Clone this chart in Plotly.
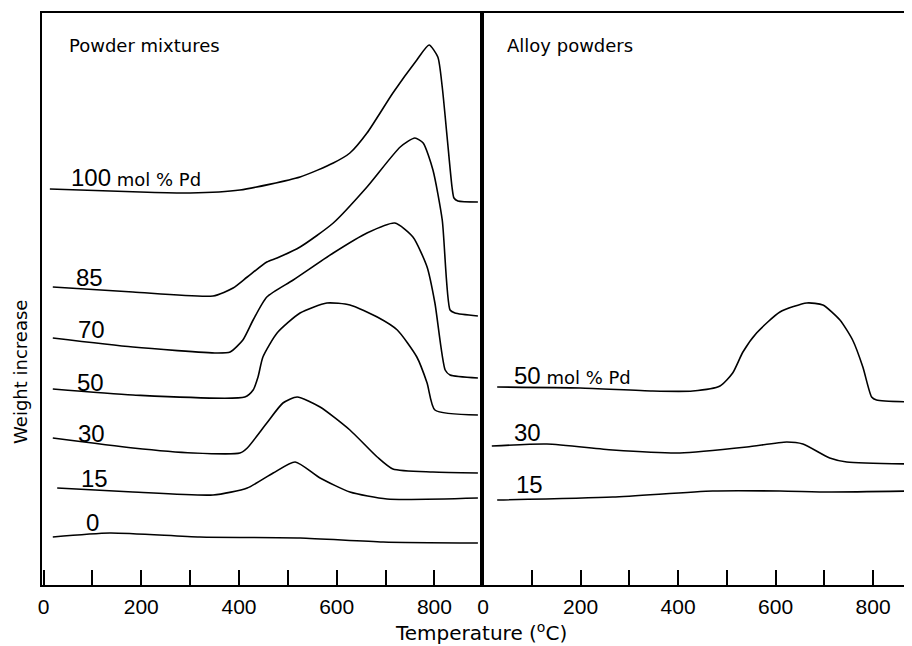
import plotly.graph_objects as go

# ---------------- data (temperature in °C, weight increase in arbitrary units) -------------
# Powder mixtures (left panel)
mix100_t = [13, 198, 300, 402, 525, 593, 627, 662, 715, 764, 789, 807, 816, 826, 836, 840, 848, 889]
mix100_w = [396, 393, 392, 395, 408, 422, 432, 452, 492, 525, 540, 528, 498, 448, 398, 387, 384, 383]

mix85_t = [19, 183, 347, 388, 417, 457, 478, 525, 593, 662, 730, 760, 777, 797, 816, 832, 842, 889]
mix85_w = [298, 293, 289, 297, 308, 323, 327, 338, 362, 398, 438, 447, 442, 415, 365, 275, 272, 269]

mix70_t = [19, 183, 355, 382, 408, 429, 457, 511, 593, 662, 719, 756, 785, 801, 822, 832, 889]
mix70_w = [247, 238, 232, 233, 245, 265, 288, 305, 332, 352, 362, 348, 318, 282, 215, 210, 207]

mix50_t = [19, 183, 412, 429, 439, 449, 478, 525, 580, 627, 683, 724, 764, 785, 801, 889]
mix50_w = [196, 190, 188, 195, 208, 228, 252, 272, 282, 280, 268, 255, 228, 202, 175, 170]

mix30_t = [19, 183, 306, 402, 417, 457, 490, 519, 566, 627, 683, 715, 797, 889]
mix30_w = [147, 137, 132, 132, 137, 162, 182, 188, 178, 155, 128, 116, 113, 112]

mix15_t = [28, 183, 347, 417, 470, 515, 566, 627, 703, 889]
mix15_w = [97, 93, 90, 97, 112, 123, 107, 93, 86, 87]

mix0_t = [19, 136, 320, 525, 695, 889]
mix0_w = [48, 52, 48, 47, 43, 42]

# Alloy powders (right panel)
all50_t = [29, 199, 348, 430, 486, 512, 533, 561, 609, 664, 697, 732, 758, 779, 797, 807, 885]
all50_w = [198, 197, 194, 194, 199, 212, 233, 252, 273, 282, 280, 265, 245, 218, 188, 185, 183]

all30_t = [18, 131, 266, 404, 541, 623, 656, 711, 746, 885]
all30_w = [139, 141, 135, 132, 138, 143, 141, 127, 123, 121]

all15_t = [29, 266, 471, 609, 711, 885]
all15_w = [85, 88, 94, 94, 93, 94]

major_ticks = [0, 200, 400, 600, 800]
major_text = ["0", "200", "400", "600", "800"]
minor_ticks = [100, 300, 500, 700]

# ---------------------------------------------------------------------------------------------
fig = go.Figure()
line = dict(color="black", width=1.6, shape="spline", smoothing=0.6)

for t, w in [(mix100_t, mix100_w), (mix85_t, mix85_w), (mix70_t, mix70_w), (mix50_t, mix50_w),
             (mix30_t, mix30_w), (mix15_t, mix15_w), (mix0_t, mix0_w)]:
    fig.add_trace(go.Scatter(x=t, y=w, mode="lines", line=line, xaxis="x", yaxis="y",
                             showlegend=False, hoverinfo="skip"))

for t, w in [(all50_t, all50_w), (all30_t, all30_w), (all15_t, all15_w)]:
    fig.add_trace(go.Scatter(x=t, y=w, mode="lines", line=line, xaxis="x2", yaxis="y2",
                             showlegend=False, hoverinfo="skip", cliponaxis=True))

split = 0.5052
tickfont = dict(family="Liberation Sans, Arial, sans-serif", size=21, color="black")
xcommon = dict(showline=True, linewidth=2, linecolor="black", mirror=True,
               ticks="inside", ticklen=15, tickwidth=2, tickcolor="black",
               tickmode="array", tickvals=major_ticks, ticktext=major_text,
               minor=dict(tickvals=minor_ticks, ticks="inside", ticklen=15, tickwidth=2,
                          tickcolor="black", showgrid=False),
               tickfont=tickfont, showgrid=False, zeroline=False, ticklabelstandoff=2)

fig.update_layout(
    width=904, height=638,
    margin=dict(l=34, r=0, t=5, b=61),
    paper_bgcolor="white", plot_bgcolor="white",
    xaxis=dict(domain=[0, split], range=[-3.1, 896.4], anchor="y", **xcommon),
    xaxis2=dict(domain=[split, 1], range=[-3.1, 879.8], anchor="y2", **xcommon),
    yaxis=dict(range=[0, 572], showline=True, linewidth=2, linecolor="black", mirror=True,
               showticklabels=False, ticks="", showgrid=False, zeroline=False, anchor="x"),
    yaxis2=dict(range=[0, 572], showline=True, linewidth=2, linecolor="black", mirror=False,
                showticklabels=False, ticks="", showgrid=False, zeroline=False, anchor="x2"),
)

numfont = dict(family="Liberation Sans, Arial, sans-serif", size=24, color="black")
txtfont = dict(family="DejaVu Sans, sans-serif", size=18, color="black")


def ann(x, y, text, xref="x", yref="y", font=numfont, **kw):
    fig.add_annotation(x=x, y=y, xref=xref, yref=yref, text=text, showarrow=False,
                       xanchor=kw.pop("xanchor", "left"), yanchor=kw.pop("yanchor", "middle"),
                       font=font, **kw)


big = '<span style="font-family:Liberation Sans, Arial; font-size:24px">%s</span>'
ann(52, 408, (big % "100") + " mol % Pd", font=txtfont)
ann(62, 308, "85")
ann(67, 256, "70")
ann(65, 203, "50")
ann(67, 152, "30")
ann(73, 107, "15")
ann(82, 63, "0")

ann(60, 210, (big % "50") + " mol % Pd", xref="x2", yref="y2", font=txtfont)
ann(60, 153, "30", xref="x2", yref="y2")
ann(64, 101, "15", xref="x2", yref="y2")

ann(48, 540, "Powder mixtures", font=txtfont)
ann(45, 540, "Alloy powders", xref="x2", yref="y2", font=txtfont)

ann(0.505, -0.082, "Temperature (<sup>o</sup>C)", xref="paper", yref="paper",
    font=dict(family="DejaVu Sans, sans-serif", size=20, color="black"), xanchor="center")
ann(-0.0245, 0.372, "Weight increase", xref="paper", yref="paper",
    font=dict(family="DejaVu Sans, sans-serif", size=18, color="black"),
    xanchor="center", textangle=-90)

fig.write_html("out.html")
